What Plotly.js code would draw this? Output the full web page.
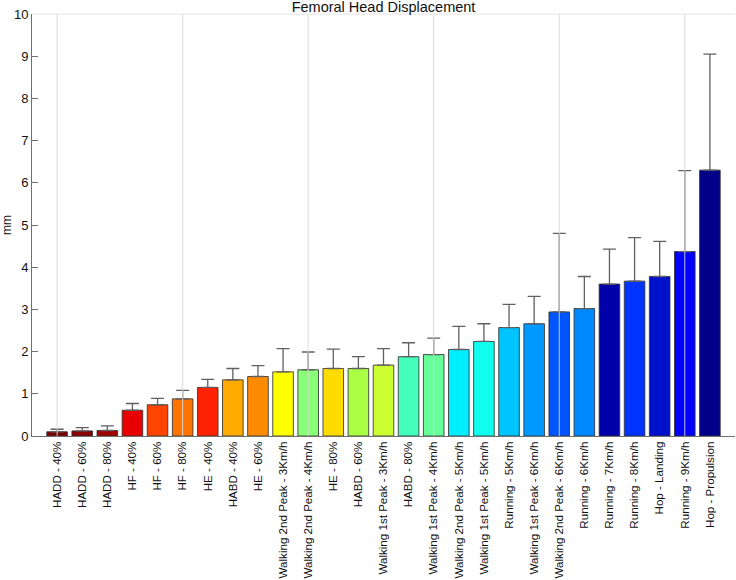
<!DOCTYPE html>
<html>
<head>
<meta charset="utf-8">
<script src="https://cdn.plot.ly/plotly-3.0.1.min.js"></script>
<style>html,body{margin:0;padding:0;background:#fff}#chart{width:736px;height:580px}</style>
</head>
<body>
<div id="chart"></div>
<script>
const categories = [
  "HADD - 40%", "HADD - 60%", "HADD - 80%", "HF - 40%", "HF - 60%", "HF - 80%",
  "HE - 40%", "HABD - 40%", "HE - 60%", "Walking 2nd Peak - 3Km/h", "Walking 2nd Peak - 4Km/h",
  "HE - 80%", "HABD - 60%", "Walking 1st Peak - 3Km/h", "HABD - 80%", "Walking 1st Peak - 4Km/h",
  "Walking 2nd Peak - 5Km/h", "Walking 1st Peak - 5Km/h", "Running - 5Km/h", "Walking 1st Peak - 6Km/h",
  "Walking 2nd Peak - 6Km/h", "Running - 6Km/h", "Running - 7Km/h", "Running - 8Km/h",
  "Hop - Landing", "Running - 9Km/h", "Hop - Propulsion"
];
const meanValues = [
  0.10, 0.12, 0.13, 0.61, 0.74, 0.88, 1.15, 1.33, 1.41, 1.52, 1.57, 1.60, 1.60, 1.68,
  1.88, 1.93, 2.05, 2.24, 2.57, 2.66, 2.94, 3.02, 3.60, 3.67, 3.78, 4.37, 6.30
];
const sdValues = [
  0.06, 0.08, 0.11, 0.16, 0.15, 0.20, 0.19, 0.27, 0.26, 0.55, 0.42, 0.46, 0.28, 0.39,
  0.33, 0.39, 0.55, 0.42, 0.55, 0.65, 1.86, 0.76, 0.83, 1.03, 0.83, 1.92, 2.75
];
const barColors = [
  "#7d0000", "#8b0000", "#a00000", "#e80000", "#ff4400", "#ff7400", "#ff2200", "#ffaa00", "#ff8c00",
  "#ffff00", "#88ff77", "#ffdc00", "#aaff44", "#ccff33", "#44ffbb", "#66ff99", "#00eeff", "#11ffee",
  "#00c4ff", "#0099ff", "#0055ff", "#0088ff", "#0000aa", "#0033ff", "#0011cc", "#0000ff", "#000088"
];
const yTicks = [0, 1, 2, 3, 4, 5, 6, 7, 8, 9, 10];
const gridStep = 5;

const gridX = [], gridY = [];
for (let i = 0; i < categories.length; i += gridStep) {
  gridX.push(categories[i], categories[i], null);
  gridY.push(yTicks[0], yTicks[yTicks.length - 1], null);
}

const traces = [
  {
    type: "bar",
    x: categories,
    y: meanValues,
    width: 0.82,
    marker: { color: barColors, line: { color: "rgba(50,50,50,0.85)", width: 1 } },
    error_y: {
      type: "data", symmetric: false, array: sdValues, arrayminus: sdValues.map(() => 0),
      color: "#606060", thickness: 1.3, width: 6.5
    },
    hoverinfo: "x+y"
  },
  {
    type: "scatter", mode: "lines", x: gridX, y: gridY,
    line: { color: "rgba(215,215,215,0.9)", width: 1 },
    hoverinfo: "skip", showlegend: false
  }
];

const layout = {
  width: 736, height: 580,
  margin: { l: 32, r: 1, t: 14, b: 144, pad: 0 },
  paper_bgcolor: "#fff", plot_bgcolor: "#fff",
  showlegend: false,
  font: { family: "Liberation Sans, Arial, sans-serif", color: "#111" },
  title: {
    text: "Femoral Head Displacement",
    font: { size: 14.5, color: "#111" },
    x: 0.5, xref: "paper", xanchor: "center",
    y: 1 - 7 / 580, yref: "container", yanchor: "middle"
  },
  xaxis: {
    type: "category",
    categoryorder: "array", categoryarray: categories,
    range: [-1, categories.length],
    tickangle: -90,
    tickfont: { size: 11.6, color: "#111" },
    ticks: "", showgrid: false, zeroline: false,
    showline: true, linecolor: "#707070", linewidth: 1,
    ticklen: 0,
    automargin: false
  },
  yaxis: {
    range: [0, 10],
    tickvals: yTicks,
    ticks: "inside", ticklen: 6, tickcolor: "#707070",
    tickfont: { size: 13, color: "#111" },
    showgrid: false, zeroline: false,
    showline: true, linecolor: "#707070", linewidth: 1,
    title: { text: "mm", font: { size: 12, color: "#111" }, standoff: 5 }
  },
  shapes: [
    { type: "line", xref: "paper", yref: "paper", x0: 0, x1: 1, y0: 1, y1: 1,
      line: { color: "#e4e4e4", width: 1 } }
  ],
  bargap: 0.18
};

Plotly.newPlot("chart", traces, layout, { displayModeBar: false, staticPlot: true });
</script>
</body>
</html>
